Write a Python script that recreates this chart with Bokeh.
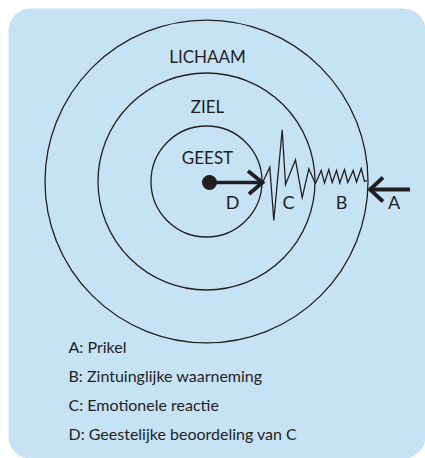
from bokeh.plotting import figure
from bokeh.models import Range1d
from bokeh.core.properties import value
from bokeh.embed import file_html
from bokeh.resources import INLINE

# ---- data ----
ring_labels = ["GEEST", "ZIEL", "LICHAAM"]
ring_radii = [55.5, 108.5, 161.5]
zone_letters = ["D", "C", "B", "A"]
legend_lines = [
    "A: Prikel",
    "B: Zintuinglijke waarneming",
    "C: Emotionele reactie",
    "D: Geestelijke beoordeling van C",
]
# emotional reaction wave (C) and sensory wave (B)
c_wave_x = [56.7, 63.3, 67.3, 75.7, 79.0, 89.0, 95.7, 102.3, 109.0]
c_wave_y = [0.3, 14.3, -39.0, 51.7, -3.0, 21.7, -16.3, 12.7, -2.3]
b_wave_x = [109.0, 114.7, 118.0, 122.3, 125.7, 130.0, 133.3, 138.0, 141.3, 146.7, 150.0, 154.7, 158.0, 160.7]
b_wave_y = [-2.0, 11.0, -1.5, 12.0, -1.0, 11.0, -1.5, 12.0, -1.0, 11.0, -0.5, 13.0, 0.0, 1.0]

W, H = 425, 458
CX, CY = 206, 181  # centre of rings from frame left / top, px
M = 8              # panel inset
DY = 6             # text baseline correction
INK = "#231f20"
PANEL = "#c6e2f5"
FONT = "Lato"

p = figure(width=W, height=H, output_backend="svg", toolbar_location=None,
           x_range=Range1d(-CX, W - CX), y_range=Range1d(-(H - CY), CY),
           x_axis_type=None, y_axis_type=None, min_border=0,
           outline_line_color=None, background_fill_color="white",
           border_fill_color="white")
p.grid.visible = False

# rounded panel
p.quad(left=[-CX + M], right=[W - CX], bottom=[-(H - CY)], top=[CY - M],
       fill_color=PANEL, line_color=None, border_radius=22)

# rings
p.circle(x=[0] * 3, y=[0] * 3, radius=ring_radii, fill_color=None,
         line_color=INK, line_width=1.3)

# ring labels
p.text(x=[1] * 3, y=[r - 37 - 2.5 * i + DY for i, r in enumerate(ring_radii)],
       text=ring_labels, text_font=value(FONT), text_font_size="17px",
       text_align="center", text_baseline="alphabetic", text_color=INK)

# zone letters at band midpoints
bands = [0] + ring_radii
zone_x = [(bands[i] + bands[i + 1]) / 2 for i in range(3)] + [ring_radii[-1] + 26]
zone_x[0] = 26
p.text(x=zone_x, y=[-26 + DY] * 4, text=zone_letters, text_font=value(FONT),
       text_font_size="18px", text_align="center", text_baseline="alphabetic",
       text_color=INK)

# waves
p.line(c_wave_x, c_wave_y, line_color=INK, line_width=1.3, line_join="miter")
p.line(b_wave_x, b_wave_y, line_color=INK, line_width=1.3, line_join="miter")

# arrow D (mind judgement), from dot to inner ring
r0 = ring_radii[0]
p.line([3, r0 + 0.5], [-1, -1], line_color=INK, line_width=3.6)
p.line([r0 - 14, r0 + 0.5, r0 - 13], [10.5, -1, -12.5], line_color=INK,
       line_width=3.8, line_join="miter")
p.scatter(x=[3], y=[-1], size=15, fill_color=INK, line_color=None)

# arrow A (stimulus), from outside to outer ring
r2 = ring_radii[-1]
p.line([r2 + 42, r2 + 2], [-8, -8], line_color=INK, line_width=3.8)
p.line([r2 + 15, r2 + 2, r2 + 15], [4, -8, -20], line_color=INK,
       line_width=3.8, line_join="miter")

# legend text
p.text(x=[-138] * 4, y=[-171 - 29 * i + DY for i in range(4)], text=legend_lines,
       text_font=value(FONT), text_font_size="16px", text_align="left",
       text_baseline="alphabetic", text_color=INK)

open("out.html", "w").write(file_html(p, INLINE))
